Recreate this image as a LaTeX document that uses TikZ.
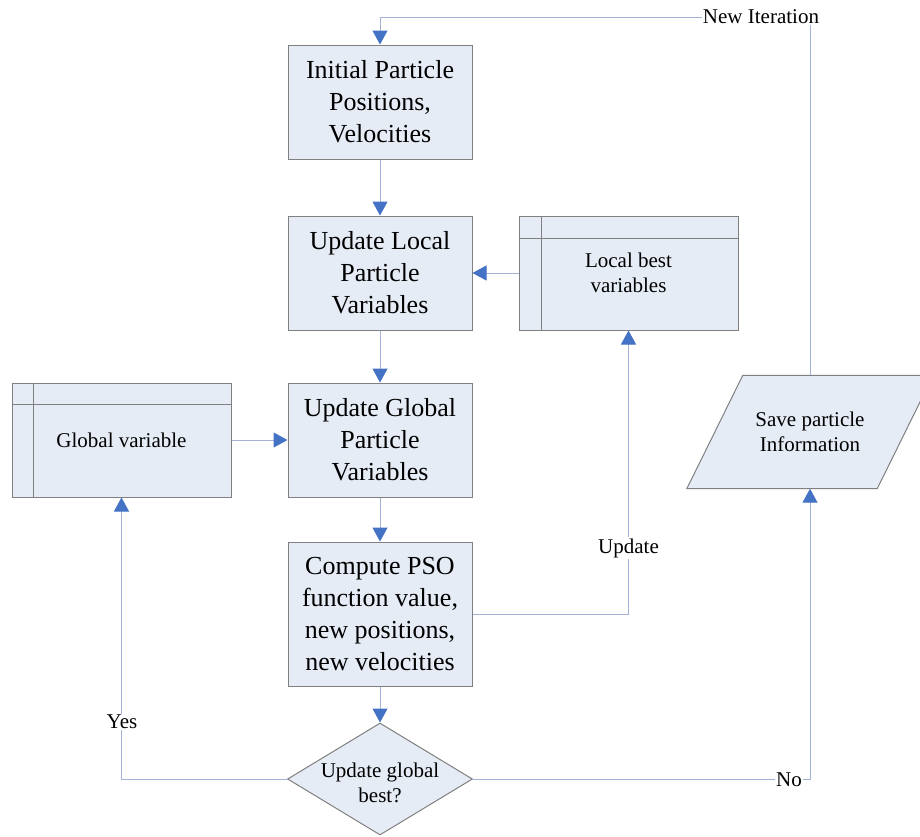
\documentclass[tikz,border=0pt]{standalone}
\usepackage{fontspec}
\setmainfont{Liberation Serif}
\usetikzlibrary{arrows.meta,shapes.geometric,backgrounds}
\definecolor{boxfill}{RGB}{230,236,246}
\definecolor{boxline}{RGB}{128,128,128}
\definecolor{conncol}{RGB}{165,178,216}
\definecolor{tipblue}{RGB}{68,114,196}
\begin{document}
\begin{tikzpicture}[x=1pt,y=-1pt,
  procbox/.style={draw=boxline,fill=boxfill,line width=1pt,minimum width=184pt,minimum height=114pt,inner sep=0pt,align=center,font=\fontsize{26}{32}\selectfont},
  store/.style={draw=boxline,fill=boxfill,line width=1pt,minimum width=219pt,minimum height=114pt,inner sep=0pt,align=center,font=\fontsize{21}{25}\selectfont},
  conn/.style={draw=conncol,line width=1pt},
  arr/.style={conn,-{Triangle[length=14pt,width=15pt,color=tipblue,fill=tipblue]}},
  lbl/.style={fill=white,inner sep=1pt,font=\fontsize{21}{25}\selectfont},
  small/.style={font=\fontsize{21}{25}\selectfont,align=center}
]
\begin{scope}[on background layer]
\fill[white] (0,0) rectangle (920,836);
\end{scope}
\useasboundingbox (0,0) rectangle (920,836);

% process boxes
\node[procbox] (init) at (380,102) {Initial Particle\\Positions,\\Velocities};
\node[procbox] (ulp) at (380,273) {Update Local\\Particle\\Variables};
\node[procbox] (ugp) at (380,440) {Update Global\\Particle\\Variables};
\node[procbox,minimum height=144pt] (comp) at (380,614) {Compute PSO\\function value,\\new positions,\\new velocities};

% decision
\node[diamond,draw=boxline,fill=boxfill,line width=1pt,minimum width=185pt,minimum height=112pt,inner sep=0pt,aspect=1.65] (dec) at (380,779) {};
\node[small] (dect) at (380,783) {Update global\\best?};

% internal storage boxes
\node[store] (lb) at (628.5,273) {Local best\\variables};
\draw[boxline,line width=1pt] ([xshift=23pt]lb.north west) -- ([xshift=23pt]lb.south west)
  ([yshift=-23pt]lb.north west) -- ([yshift=-23pt]lb.north east);
\node[store] (gv) at (121.5,440) {Global variable};
\draw[boxline,line width=1pt] ([xshift=22pt]gv.north west) -- ([xshift=22pt]gv.south west)
  ([yshift=-22pt]gv.north west) -- ([yshift=-22pt]gv.north east);

% data (parallelogram)
\node[small,minimum width=190pt,minimum height=113pt,inner sep=0pt] (save) at (810,432) {Save particle\\Information};
\begin{scope}[on background layer]
\draw[boxline,fill=boxfill,line width=1pt] ([xshift=-28pt]save.south west) -- ([xshift=-28pt]save.south east)
  -- ([xshift=28pt]save.north east) -- ([xshift=28pt]save.north west) -- cycle;
\end{scope}

% connectors
\draw[arr] (init) -- (ulp);
\draw[arr] (ulp) -- (ugp);
\draw[arr] (ugp) -- (comp);
\draw[arr] (comp) -- (dec);
\draw[arr] (lb.west) -- (ulp.east);
\draw[arr] (gv.east) -- (ugp.west);
\draw[arr] (comp.east) -| (lb.south);
\draw[arr] (dec.west) -| (gv.south);
\draw[arr] (dec.east) -| (save.south);
\coordinate (ni) at (810,17);
\draw[arr] (save.north) -- (ni) -| (init.north);

% labels
\node[lbl] (lnew) at (761,17) {New Iteration};
\node[lbl] (lupd) at (628.5,548) {Update};
\node[lbl] (lyes) at (122,722) {Yes};
\node[lbl] (lno) at (789,780) {No};
\end{tikzpicture}
\end{document}
